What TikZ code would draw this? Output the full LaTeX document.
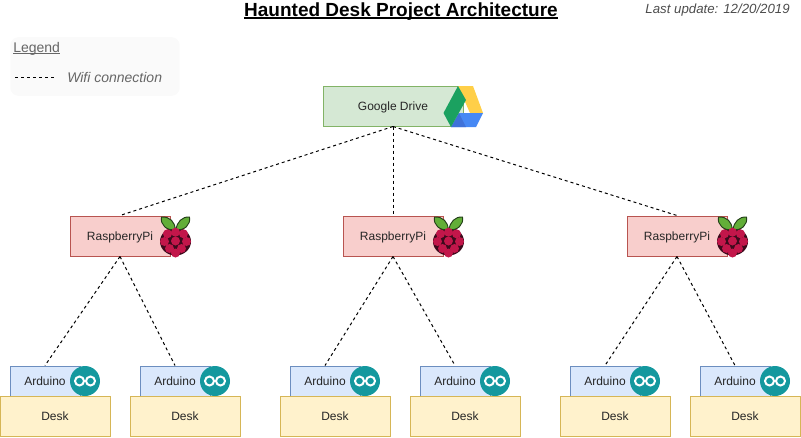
\documentclass[tikz,border=0pt]{standalone}
\usepackage{fontspec}
\setmainfont{Liberation Sans}
\newcommand{\undertext}[3]{\setbox0\hbox{#3}\rlap{\rule[-#1]{\wd0}{#2}}\box0}
\definecolor{drivefill}{HTML}{D5E8D4}
\definecolor{driveline}{HTML}{82B366}
\definecolor{pifill}{HTML}{F8CECC}
\definecolor{piline}{HTML}{B85450}
\definecolor{ardfill}{HTML}{DAE8FC}
\definecolor{ardline}{HTML}{6C8EBF}
\definecolor{deskfill}{HTML}{FFF2CC}
\definecolor{deskline}{HTML}{D6B656}
\definecolor{legendfill}{HTML}{FAFAFA}
\definecolor{legendtext}{HTML}{666666}
\definecolor{berry}{HTML}{C2164A}
\definecolor{berrydark}{HTML}{3C0A1C}
\definecolor{leaf}{HTML}{62AE38}
\definecolor{leafdark}{HTML}{24401A}
\definecolor{ardteal}{HTML}{14989E}
\definecolor{gdgreen}{HTML}{1BA160}
\definecolor{gdyellow}{HTML}{FFCF48}
\definecolor{gdblue}{HTML}{4688F4}
\definecolor{gddark}{HTML}{3F72D9}
\tikzset{
  box/.style={draw, line width=0.75pt, inner sep=0pt, text height=6.5pt, text depth=0pt, font=\fontsize{9}{11}\selectfont, text=black!85},
  drivebox/.style={box, fill=drivefill, draw=driveline, minimum width=105pt, minimum height=30pt},
  pibox/.style={box, fill=pifill, draw=piline, minimum width=75pt, minimum height=30pt},
  ardbox/.style={box, fill=ardfill, draw=ardline, minimum width=52.5pt, minimum height=22.5pt},
  deskbox/.style={box, fill=deskfill, draw=deskline, minimum width=82.5pt, minimum height=30pt},
  wifi/.style={line width=0.75pt, dash pattern=on 2.25pt off 2.25pt},
  greytext/.style={inner sep=0pt, text=legendtext, font=\fontsize{10.5}{12}\selectfont},
  pics/rasp/.style={code={
    \fill[berrydark] (-0.5,12.5) circle (15.5 and 14);
    \fill[leaf, draw=leafdark, line width=0.7pt] (-0.8,0.5) .. controls (-1,-7) and (-6,-12.5) .. (-14.5,-12) .. controls (-16,-4) and (-9,2) .. (-0.8,0.5);
    \fill[leaf, draw=leafdark, line width=0.7pt] (0,0.5) .. controls (1,-7) and (6,-12.5) .. (13.5,-12) .. controls (15,-4) and (8,2) .. (0,0.5);
    \foreach \bx/\by in {-8.5/4.8, -0.5/3.2, 7.5/4.8, -11.5/12.5, -0.5/12, 10.5/12.5, -6.5/19.5, 5.5/19.5, -0.5/24}
      \fill[berry] (\bx,\by) circle (4.5);
  }},
  pics/ardlogo/.style={code={
    \fill[ardteal] (0,0) circle (15);
    \draw[white, line width=1.5pt] (-5.5,0) circle (4.5) (5.5,0) circle (4.5);
  }},
  pics/drivelogo/.style={code={
    \fill[gdyellow] (0,0) -- (15,0) -- (25,27) -- (12,27) -- cycle;
    \fill[gdblue] (1,27) -- (25,27) -- (18,41) -- (-7,41) -- cycle;
    \fill[gddark] (-7,41) -- (1,27) -- (8,41) -- cycle;
    \fill[gdgreen] (0,0) -- (8,14) -- (-7,41) -- (-14.5,27) -- cycle;
  }},
}
\begin{document}
\begin{tikzpicture}[x=0.75pt,y=-0.75pt]
  \useasboundingbox (0,0) rectangle (801,437);
  % legend
  \node[fill=legendfill, rounded corners=6pt, inner sep=0pt, minimum width=127pt, minimum height=44pt] (legend) at (95,66.5) {};
  \node[greytext, anchor=base west] (legendtitle) at (13,52) {\undertext{1.2pt}{0.5pt}{Legend}};
  \coordinate (legendstart) at (15,77);
  \coordinate (legendend) at (55,77);
  \draw[wifi] (legendstart) to (legendend);
  \node[greytext, anchor=west] (legendwifi) at (67,77) {\textit{Wifi connection}};
  % titles
  \node[inner sep=0pt, anchor=base, font=\fontsize{14.25}{17}\selectfont\bfseries] (title) at (401,16) {\undertext{2pt}{1pt}{Haunted Desk Project Architecture}};
  \node[greytext, anchor=east, text=black!70, font=\fontsize{9.95}{12}\selectfont] (update) at (790,10.5) {\textit{Last update: 12/20/2019}};
  % boxes
  \node[drivebox] (drive) at (393,106) {Google Drive};
  \node[pibox] (pi1) at (120,236) {RaspberryPi};
  \node[pibox] (pi2) at (393,236) {RaspberryPi};
  \node[pibox] (pi3) at (677,236) {RaspberryPi};
  \foreach \i/\ax in {1/45, 2/175, 3/325, 4/455, 5/605, 6/735} {
    \node[ardbox] (ard\i) at (\ax,381) {Arduino};
    \node[deskbox] (desk\i) at (\ax+10,416) {Desk};
    \pic at (\ax+40,381) {ardlogo};
  }
  \pic at (176,229) {rasp};
  \pic at (449,229) {rasp};
  \pic at (733,229) {rasp};
  \pic at (458,86) {drivelogo};
  % connections
  \begin{scope}[wifi]
    \draw (drive.south) to (pi1.north);
    \draw (drive.south) to (pi2.north);
    \draw (drive.south) to (pi3.north);
    \draw (pi1.south) to (ard1.north);
    \draw (pi1.south) to (ard2.north);
    \draw (pi2.south) to (ard3.north);
    \draw (pi2.south) to (ard4.north);
    \draw (pi3.south) to (ard5.north);
    \draw (pi3.south) to (ard6.north);
  \end{scope}
\end{tikzpicture}
\end{document}
